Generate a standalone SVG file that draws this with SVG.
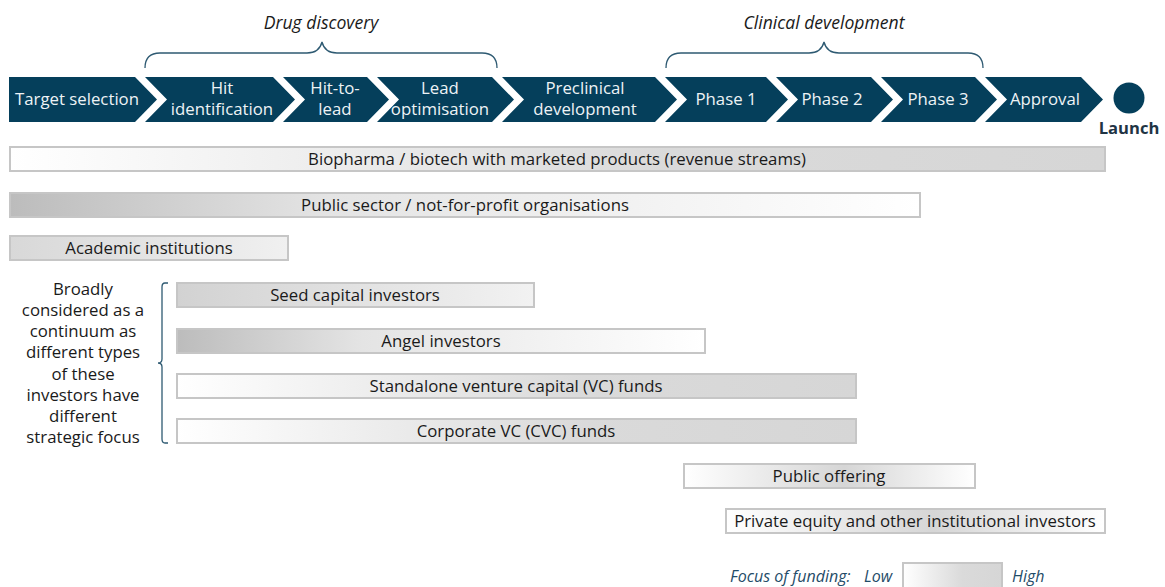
<svg xmlns="http://www.w3.org/2000/svg" width="1165" height="587" viewBox="0 0 1165 587">
<defs>
<linearGradient id="gWG" x1="0" y1="0" x2="1" y2="0"><stop offset="0" stop-color="#ffffff"/><stop offset="0.6" stop-color="#dadada"/><stop offset="1" stop-color="#d6d6d6"/></linearGradient>
<linearGradient id="gGW" x1="0" y1="0" x2="1" y2="0"><stop offset="0" stop-color="#bcbcbc"/><stop offset="0.35" stop-color="#e4e4e4"/><stop offset="1" stop-color="#ffffff"/></linearGradient>
<linearGradient id="gSeed" x1="0" y1="0" x2="1" y2="0"><stop offset="0" stop-color="#d2d2d2"/><stop offset="1" stop-color="#f2f2f2"/></linearGradient>
<linearGradient id="gAcad" x1="0" y1="0" x2="1" y2="0"><stop offset="0" stop-color="#d8d8d8"/><stop offset="1" stop-color="#f0f0f0"/></linearGradient>
<linearGradient id="gMid" x1="0" y1="0" x2="1" y2="0"><stop offset="0" stop-color="#ffffff"/><stop offset="0.55" stop-color="#d6d6d6"/><stop offset="1" stop-color="#ffffff"/></linearGradient>
</defs>
<style>
.chev{fill:#053f5b}
.ct{font-family:"Open Sans","Liberation Sans",sans-serif;font-size:16.8px;fill:#eef3f6;text-anchor:middle}
.bar{stroke:#c6c6c6;stroke-width:2}
.bt{font-family:"Open Sans","Liberation Sans",sans-serif;font-size:16.8px;fill:#1a1a1a;text-anchor:middle}
.hd{font-family:"Open Sans","Liberation Sans",sans-serif;font-size:17.6px;font-style:italic;fill:#1a1a1a;text-anchor:middle}
.brace{fill:none;stroke:#2e5a72;stroke-width:1.3}
.lg{font-family:"Open Sans","Liberation Sans",sans-serif;font-size:16px;font-style:italic;fill:#1f4c68}
</style>

<g id="header-drug-discovery">
<text class="hd" x="321" y="29">Drug discovery</text>
<path class="brace" d="M145,68 C145,58 150,53 160,53 L307,53 C315,53 320,50 322,42 C324,50 329,53 337,53 L482,53 C492,53 497,58 497,68"/>
</g>
<g id="header-clinical">
<text class="hd" x="824" y="29">Clinical development</text>
<path class="brace" d="M666,68 C666,58 671,53 681,53 L809,53 C817,53 822,50 824,42 C826,50 831,53 839,53 L968,53 C978,53 983,58 983,68"/>
</g>

<g id="stage-target">
<polygon class="chev" points="9,77 135,77 157,99.5 135,122 9,122"/>
<text class="ct" x="77" y="105">Target selection</text>
</g>
<g id="stage-hit">
<polygon class="chev" points="145,77 273,77 295,99.5 273,122 145,122 167,99.5"/>
<text class="ct" x="222" y="94">Hit</text>
<text class="ct" x="222" y="115">identification</text>
</g>
<g id="stage-hit-to-lead">
<polygon class="chev" points="283,77 367,77 389,99.5 367,122 283,122 305,99.5"/>
<text class="ct" x="335" y="94">Hit-to-</text>
<text class="ct" x="335" y="115">lead</text>
</g>
<g id="stage-lead">
<polygon class="chev" points="377,77 492,77 514,99.5 492,122 377,122 399,99.5"/>
<text class="ct" x="440" y="94">Lead</text>
<text class="ct" x="440" y="115">optimisation</text>
</g>
<g id="stage-preclinical">
<polygon class="chev" points="502,77 655,77 677,99.5 655,122 502,122 524,99.5"/>
<text class="ct" x="585" y="94">Preclinical</text>
<text class="ct" x="585" y="115">development</text>
</g>
<g id="stage-phase1">
<polygon class="chev" points="665,77 766,77 788,99.5 766,122 665,122 687,99.5"/>
<text class="ct" x="726" y="105">Phase 1</text>
</g>
<g id="stage-phase2">
<polygon class="chev" points="776,77 871,77 893,99.5 871,122 776,122 798,99.5"/>
<text class="ct" x="832" y="105">Phase 2</text>
</g>
<g id="stage-phase3">
<polygon class="chev" points="881,77 975,77 997,99.5 975,122 881,122 903,99.5"/>
<text class="ct" x="938" y="105">Phase 3</text>
</g>
<g id="stage-approval">
<polygon class="chev" points="985,77 1081,77 1103,99.5 1081,122 985,122 1007,99.5"/>
<text class="ct" x="1045" y="105">Approval</text>
</g>
<g id="stage-launch">
<circle class="chev" cx="1129" cy="98" r="15.5"/>
<text x="1129" y="134" font-family="'Open Sans','Liberation Sans',sans-serif" font-size="16.6" font-weight="bold" fill="#1f3444" text-anchor="middle">Launch</text>
</g>

<g id="bar-biopharma">
<rect class="bar" x="10" y="147" width="1095" height="24" fill="url(#gWG)"/>
<text class="bt" x="557" y="165">Biopharma / biotech with marketed products (revenue streams)</text>
</g>
<g id="bar-public-sector">
<rect class="bar" x="10" y="193" width="910" height="24" fill="url(#gGW)"/>
<text class="bt" x="465" y="211">Public sector / not-for-profit organisations</text>
</g>
<g id="bar-academic">
<rect class="bar" x="10" y="236" width="278" height="24" fill="url(#gAcad)"/>
<text class="bt" x="149" y="254">Academic institutions</text>
</g>

<g id="note-continuum">
<text class="bt" x="83" y="295">Broadly</text>
<text class="bt" x="83" y="316">considered as a</text>
<text class="bt" x="83" y="337">continuum as</text>
<text class="bt" x="83" y="358">different types</text>
<text class="bt" x="83" y="380">of these</text>
<text class="bt" x="83" y="401">investors have</text>
<text class="bt" x="83" y="422">different</text>
<text class="bt" x="83" y="443">strategic focus</text>
<path class="brace" d="M168,283 L165,283 Q162,283 162,287 L162,359 Q162,363 158,363 Q162,363 162,367 L162,439 Q162,443 165,443 L168,443"/>
</g>

<g id="bar-seed">
<rect class="bar" x="177" y="283" width="357" height="24" fill="url(#gSeed)"/>
<text class="bt" x="355" y="301">Seed capital investors</text>
</g>
<g id="bar-angel">
<rect class="bar" x="177" y="329" width="528" height="24" fill="url(#gGW)"/>
<text class="bt" x="441" y="347">Angel investors</text>
</g>
<g id="bar-standalone-vc">
<rect class="bar" x="177" y="374" width="679" height="24" fill="url(#gWG)"/>
<text class="bt" x="516" y="392">Standalone venture capital (VC) funds</text>
</g>
<g id="bar-cvc">
<rect class="bar" x="177" y="419" width="679" height="24" fill="url(#gWG)"/>
<text class="bt" x="516" y="437">Corporate VC (CVC) funds</text>
</g>
<g id="bar-public-offering">
<rect class="bar" x="684" y="464" width="291" height="24" fill="url(#gMid)"/>
<text class="bt" x="829" y="482">Public offering</text>
</g>
<g id="bar-private-equity">
<rect class="bar" x="726" y="509" width="379" height="24" fill="url(#gMid)"/>
<text class="bt" x="915" y="527">Private equity and other institutional investors</text>
</g>

<g id="legend">
<text class="lg" x="730" y="582">Focus of funding:</text>
<text class="lg" x="864" y="582">Low</text>
<rect class="bar" x="903" y="563" width="99" height="30" fill="url(#gWG)"/>
<text class="lg" x="1012" y="582">High</text>
</g>
</svg>
